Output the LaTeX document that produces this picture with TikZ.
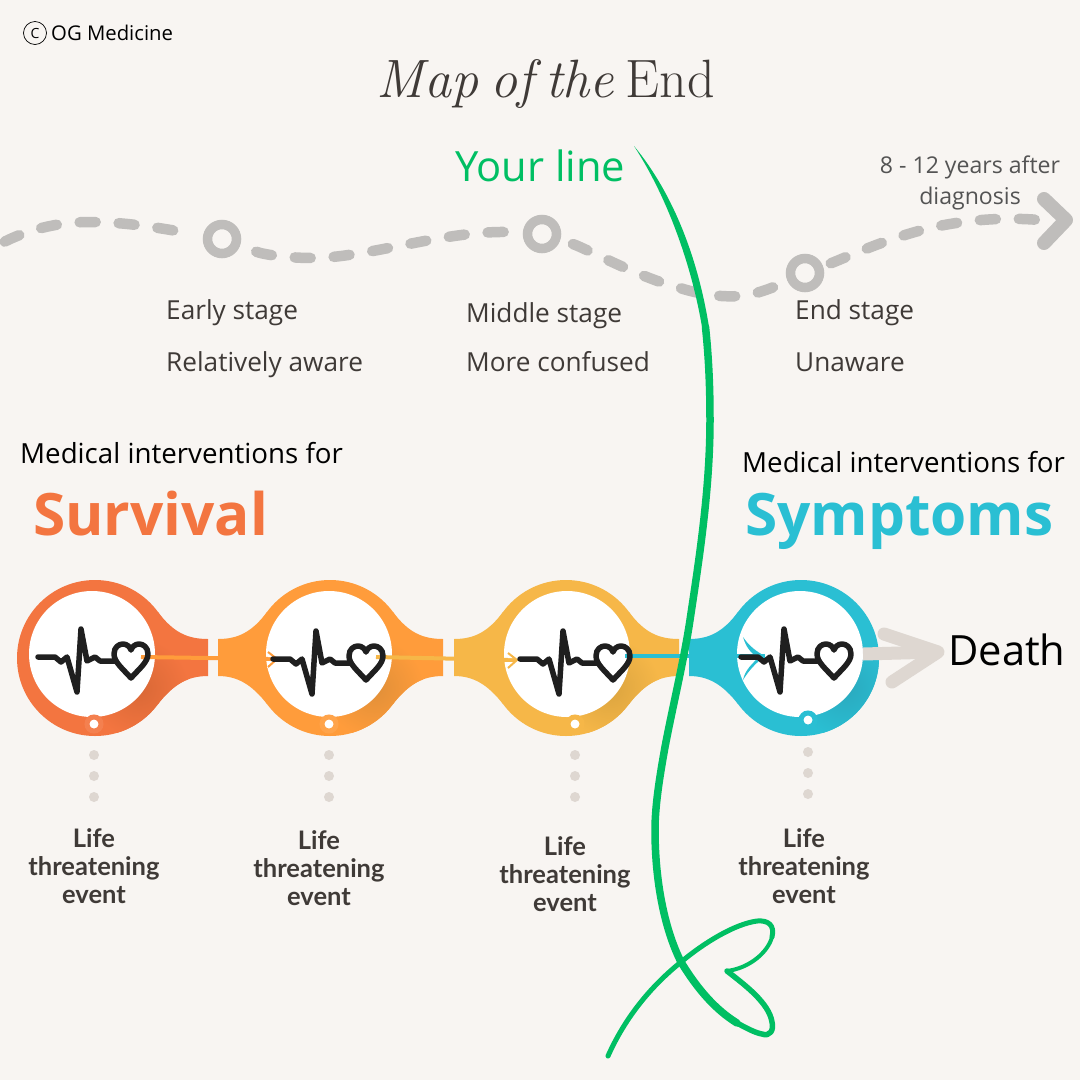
\documentclass[tikz,border=0pt]{standalone}
\usepackage{fontspec}
\setsansfont{Open Sans}
\newfontfamily\eventfont{Lato}
\usetikzlibrary{positioning}

\definecolor{paper}{HTML}{F8F5F2}
\definecolor{inkdark}{HTML}{3F3A37}
\definecolor{inkgrey}{HTML}{545454}
\definecolor{trailgrey}{HTML}{BFBDBB}
\definecolor{dotgrey}{HTML}{DED7D1}
\definecolor{yourgreen}{HTML}{00BF63}
\definecolor{ecgblack}{HTML}{1F1F1F}
\definecolor{podA}{HTML}{F37540}
\definecolor{podAdark}{HTML}{D96836}
\definecolor{podB}{HTML}{FF9C3B}
\definecolor{podBdark}{HTML}{E08F38}
\definecolor{podC}{HTML}{F6B748}
\definecolor{podCdark}{HTML}{DBA43F}
\definecolor{podD}{HTML}{2ABFD3}
\definecolor{podDdark}{HTML}{2AA9BE}

\tikzset{
  stagering/.style={circle, draw=trailgrey, line width=9.5, minimum size=29, inner sep=0, outer sep=0},
  trail/.style={trailgrey, line width=10.5, line cap=round, dash pattern=on 16 off 23},
  trailhead/.style={trailgrey, line width=14, line cap=round, line join=round},
  podring/.style={circle, minimum size=156, inner sep=0, outer sep=0},
  podface/.style={circle, fill=white, minimum size=126, inner sep=0, outer sep=0},
  eventmark/.style={circle, fill=white, line width=5, minimum size=14, inner sep=0, outer sep=0},
  eventdot/.style={circle, fill=dotgrey, minimum size=10, inner sep=0, outer sep=0},
  stagetext/.style={inkdark, anchor=base west, inner sep=0, font=\sffamily\fontsize{26.2}{26.2}\selectfont},
  introtext/.style={black, anchor=base west, inner sep=0, font=\sffamily\fontsize{27.7}{27.7}\selectfont},
  bigword/.style={anchor=base west, inner sep=0, font=\sffamily\bfseries\fontsize{58.5}{58.5}\selectfont},
  eventtext/.style={inkdark, align=center, inner sep=0, font=\eventfont\bfseries\fontsize{25.5}{28}\selectfont},
  link/.style={line width=4},
  yourline/.style={yourgreen, line cap=round, line join=round},
  rightflare/.pic={
    \path[pic actions] (63,-46) .. controls (78,-26) and (92,-19) .. (113,-19) -- (113,18) .. controls (92,18) and (78,27) .. (63,46) -- cycle;
  },
  leftflare/.pic={
    \path[pic actions] (-63,-46) .. controls (-78,-26) and (-92,-19) .. (-112,-19) -- (-112,18) .. controls (-92,18) and (-78,27) .. (-63,46) -- cycle;
  },
  heartbeat/.pic={
    \draw[ecgblack, line width=5.5, line cap=round, line join=round] (0,0) -- (17,0) -- (23,5) -- (29,0) -- (39,35) -- (43,-28) -- (49,4) -- (57,0) -- (62,4) -- (77,4);
    \draw[ecgblack, line width=5.5, line join=round] (93,21) .. controls (85,12) and (76,5) .. (76,-3) .. controls (76,-10) and (81,-13) .. (85,-13) .. controls (89,-13) and (92,-10) .. (93,-7) .. controls (94,-10) and (97,-13) .. (101,-13) .. controls (105,-13) and (110,-10) .. (110,-3) .. controls (110,5) and (101,12) .. (93,21) -- cycle;
  },
  smallchevron/.pic={
    \fill[white] (-9,-8) -- (-2,-2) -- (-8,-2) -- cycle;
    \fill[white] (-9,9) -- (-3,3) -- (-8,3) -- cycle;
    \draw[pic actions, line width=2] (-8,-7) -- (1,0) -- (-8,8);
  },
}

% soft darker patch on the lower right of a pod
\newcommand{\ringshade}[3]{
  \begin{scope}
    \clip (#1,658) circle (78);
    \shade[inner color=#3, outer color=#2] (#1+44,658+30) circle (50);
  \end{scope}
}
\newcommand{\flareshade}[3]{
  \begin{scope}[shift={(#1,658)}]
    \clip (63,-46) .. controls (78,-26) and (92,-19) .. (113,-19) -- (113,18) .. controls (92,18) and (78,27) .. (63,46) -- cycle;
    \shade[inner color=#3, outer color=#2] (44,30) circle (50);
  \end{scope}
}

\begin{document}
\begin{tikzpicture}[x=1pt, y=-1pt]
  \useasboundingbox (0,0) rectangle (1080,1080);
  \fill[paper] (0,0) rectangle (1080,1080);

  % header
  \node[circle, draw=black, line width=0.7, minimum size=23, inner sep=0] (copymark) at (35,33) {\sffamily\fontsize{14}{14}\selectfont C};
  \node[anchor=base west, inner sep=0, black, font=\sffamily\fontsize{20.3}{20.3}\selectfont] (credit) at (51,40) {OG Medicine};
  \node[anchor=base, inkdark, inner sep=0, font=\fontsize{54}{54}\selectfont] (title) at (546,97) {\spaceskip=.22em \itshape Map of the \upshape End};
  \node[anchor=base west, inner sep=0, yourgreen, font=\sffamily\fontsize{41.7}{41.7}\selectfont] (yourlabel) at (455,181) {Your line};
  \node[inkgrey, align=center, inner sep=0, font=\sffamily\fontsize{23.1}{31}\selectfont] (yearslabel) at (970,183) {8 - 12 years after\\diagnosis};

  % stages along the trail
  \node[stagering] (stage1) at (222,239) {};
  \node[stagering] (stage2) at (542,234) {};
  \node[stagering] (stage3) at (805,273) {};
  \coordinate (trailstart) at (2,243);
  \coordinate (trailend) at (1040,220);
  \coordinate (headtop) at (1044,199);
  \coordinate (headtip) at (1066,220);
  \coordinate (headbot) at (1044,243);
  \draw[trail, shorten >=20, dash phase=-3] (trailstart) .. controls (25,231) and (55,222) .. (90,222) .. controls (125,222) and (160,228) .. (stage1);
  \draw[trail, shorten <=22, shorten >=10] (stage1) .. controls (265,255) and (290,258) .. (312,258) .. controls (370,258) and (450,228) .. (stage2);
  \draw[trail, shorten <=18] (stage2) .. controls (585,248) and (640,278) .. (680,288) .. controls (705,296) and (730,298) .. (748,295) .. controls (762,292) and (775,287) .. (stage3);
  \draw[trail, shorten <=13] (stage3) .. controls (845,258) and (900,232) .. (950,224) .. controls (985,218) and (1015,218) .. (trailend);
  \draw[trailhead] (headtop) -- (headtip) -- (headbot);

  \node[stagetext] (early) at (166,319) {Early stage};
  \node[stagetext] (aware) at (166,371) {Relatively aware};
  \node[stagetext] (middle) at (466,322) {Middle stage};
  \node[stagetext] (confused) at (466,371) {More confused};
  \node[stagetext] (late) at (795,319) {End stage};
  \node[stagetext] (unaware) at (795,371) {Unaware};

  \node[introtext] (introA) at (20,463) {Medical interventions for};
  \node[bigword, podA] (survival) at (33,535) {Survival};
  \node[introtext] (introB) at (742,472) {Medical interventions for};
  \node[bigword, podD] (symptoms) at (745,535) {Symptoms};

  % pods
  \node[podring, fill=podA] (pod1) at (95,658) {};
  \node[podring, fill=podB] (pod2) at (330,658) {};
  \node[podring, fill=podC] (pod3) at (566,658) {};
  \node[podring, fill=podD] (pod4) at (801,658) {};
  \pic[fill=podA] at (95,658) {rightflare};
  \pic[fill=podB] at (330,658) {rightflare};
  \pic[fill=podB] at (330,658) {leftflare};
  \pic[fill=podC] at (566,658) {rightflare};
  \pic[fill=podC] at (566,658) {leftflare};
  \pic[fill=podD] at (801,658) {leftflare};
  \ringshade{95}{podA}{podAdark}
  \flareshade{95}{podA}{podAdark}
  \ringshade{330}{podB}{podBdark}
  \flareshade{330}{podB}{podBdark}
  \ringshade{566}{podC}{podCdark}
  \flareshade{566}{podC}{podCdark}
  \ringshade{801}{podD}{podDdark}
  \node[podface] (face1) at (92,654) {};
  \node[podface] (face2) at (329,654) {};
  \node[podface] (face3) at (567,654) {};
  \node[podface] (face4) at (800,654) {};

  \node[eventmark, draw=podA!92!white] (mark1) at (94,724) {};
  \node[eventmark, draw=podB!92!white] (mark2) at (329,724) {};
  \node[eventmark, draw=podC] (mark3) at (575,724) {};
  \node[eventmark, draw=podD] (mark4) at (808,720) {};

  \node[eventdot] (dotA1) at (94,755) {};
  \node[eventdot] (dotA2) at (94,776) {};
  \node[eventdot] (dotA3) at (94,797) {};
  \node[eventdot] (dotB1) at (329,755) {};
  \node[eventdot] (dotB2) at (329,776) {};
  \node[eventdot] (dotB3) at (329,797) {};
  \node[eventdot] (dotC1) at (575,755) {};
  \node[eventdot] (dotC2) at (575,776) {};
  \node[eventdot] (dotC3) at (575,797) {};
  \node[eventdot] (dotD1) at (808,752) {};
  \node[eventdot] (dotD2) at (808,773) {};
  \node[eventdot] (dotD3) at (808,794) {};

  % links between the pods
  \coordinate (beat1) at (141,657);
  \coordinate (tip2) at (276,659);
  \coordinate (beat2) at (376,657);
  \coordinate (tip3) at (516,660);
  \coordinate (beat3) at (625,656);
  \coordinate (tip4) at (765,656);
  \draw[link, podB] (beat1) -- (tip2);
  \draw[link, podC] (beat2) -- (tip3);
  \draw[link, podD] (beat3) -- (tip4);
  \pic[draw=podB] at (tip2) {smallchevron};
  \pic[draw=podC] at (tip3) {smallchevron};
  \fill[podD] (743,637) .. controls (749,646) and (757,652) .. (tip4) -- (758,658) .. controls (750,652) and (746,647) .. (743,637);
  \fill[podD] (743,680) .. controls (749,670) and (757,662) .. (tip4) -- (759,657) .. controls (752,664) and (745,670) .. (743,680);

  \pic (ecg1) at (38,657) {heartbeat};
  \pic (ecg2) at (273,659) {heartbeat};
  \pic (ecg3) at (520,659) {heartbeat};
  \pic (ecg4) at (741,657) {heartbeat};

  % way out of the last pod
  \node[anchor=base west, inner sep=0, black, font=\sffamily\fontsize{41.7}{41.7}\selectfont] (death) at (948,665) {Death};
  \coordinate (deathtip) at (938,652);
  \coordinate (barbtop) at (884,634);
  \coordinate (barbbot) at (892,682);
  \draw[dotgrey, line width=13] (face4.east) -- (deathtip);
  \draw[dotgrey, line width=13, line cap=round, line join=round] (barbtop) -- (deathtip) -- (barbbot);

  \node[eventtext] (event1) at (94,866) {Life\\threatening\\event};
  \node[eventtext] (event2) at (319,868) {Life\\threatening\\event};
  \node[eventtext] (event3) at (565,874) {Life\\threatening\\event};
  \node[eventtext] (event4) at (804,866) {Life\\threatening\\event};

  % the line
  \fill[yourline] (634,146) .. controls (666,195) and (691,262) .. (702,327) -- (709,327) .. controls (698,258) and (673,193) .. (634,146) -- cycle;
  \draw[yourline, line width=7.5] (705.5,327) .. controls (709,360) and (710,390) .. (710,420) .. controls (710,490) and (699,560) .. (690,620) .. controls (684,660) and (673,705) .. (665,747) .. controls (660,775) and (655,805) .. (655,830) .. controls (655,880) and (664,928) .. (681,962) .. controls (698,990) and (716,1010) .. (737,1023);
  \draw[yourline, line width=5.5] (737,1023) .. controls (748,1029) and (756,1033) .. (762,1034) .. controls (770,1037) and (774,1030) .. (772,1022) .. controls (769,1003) and (745,985) .. (727,971);
  \draw[yourline, line width=4] (727,971) .. controls (750,968) and (768,952) .. (772,937);
  \draw[yourline, line width=5] (772,937) .. controls (775,925) and (768,920) .. (757,921) .. controls (735,924) and (705,942) .. (681,962) .. controls (650,987) and (625,1018) .. (608,1056);
\end{tikzpicture}
\end{document}
